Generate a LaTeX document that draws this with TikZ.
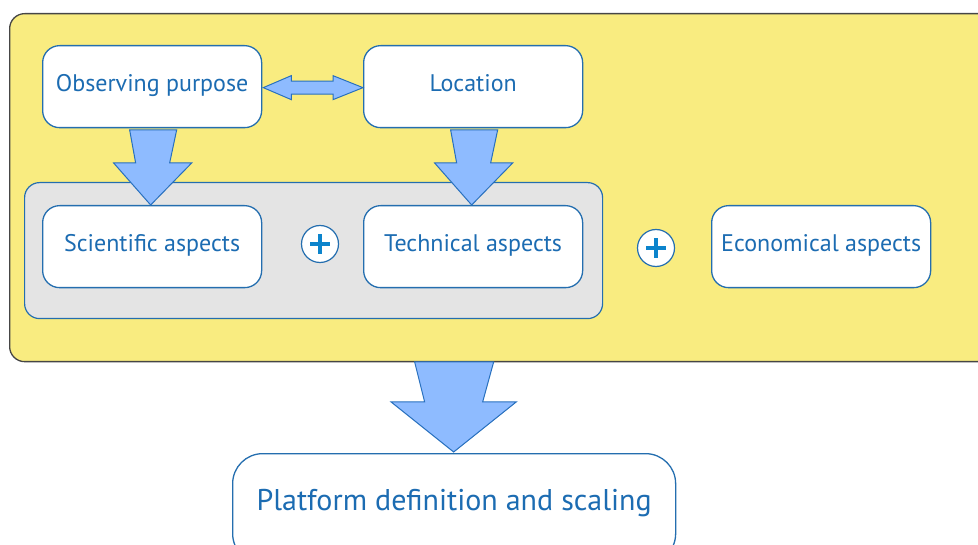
\documentclass[tikz,border=0pt]{standalone}
\usepackage{fontspec}
\setmainfont{PT Sans}
\usetikzlibrary{calc}
\definecolor{txtblue}{RGB}{28,108,178}
\definecolor{bordblue}{RGB}{36,110,175}
\definecolor{plusblue}{RGB}{12,132,204}
\definecolor{bgyellow}{RGB}{249,236,128}
\definecolor{bggray}{RGB}{228,228,228}
\definecolor{arrfill}{RGB}{142,187,255}
\definecolor{arrdraw}{RGB}{40,112,190}
\definecolor{frame}{RGB}{70,70,70}
\tikzset{
  aspectbox/.style={draw=bordblue, line width=1.3pt, fill=white, rounded corners=17pt,
    minimum width=219pt, minimum height=82pt, inner sep=0pt, text=txtblue,
    font=\fontsize{24}{27}\selectfont, anchor=north west},
  plusnode/.style={circle, draw=bordblue, line width=1.2pt, fill=white, minimum size=37pt, inner sep=0pt},
  fatarrow/.style={fill=arrfill, draw=arrdraw, line width=1pt, line join=miter},
}
\begin{document}
\begin{tikzpicture}[x=1pt,y=-1pt]
\useasboundingbox (0,0) rectangle (978,545);
\clip (0,0) rectangle (978,545);
% yellow frame
\node[draw=frame, line width=1.3pt, fill=bgyellow, rounded corners=15pt, anchor=north west,
  minimum width=1000pt, minimum height=348pt, inner sep=0pt] (frameY) at (9,13) {};
% gray group
\node[draw=bordblue, line width=1.2pt, fill=bggray, rounded corners=15pt, anchor=north west,
  minimum width=578pt, minimum height=136pt, inner sep=0pt] (grp) at (24,182) {};
% boxes
\node[aspectbox] (obs) at (42,45) {\raisebox{6.5pt}{Observing purpose}};
\node[aspectbox] (loc) at (363,45) {\raisebox{6.5pt}{Location}};
\node[aspectbox] (sci) at (42,205) {\raisebox{6.5pt}{Scientific aspects}};
\node[aspectbox] (tec) at (363,205) {\raisebox{6.5pt}{Technical aspects}};
\node[aspectbox] (eco) at (711,205) {\raisebox{6.5pt}{Economical aspects}};
\node[aspectbox, minimum width=443pt, minimum height=110pt, rounded corners=30pt,
  font=\fontsize{30}{33}\selectfont] (plat) at (232,453) {\raisebox{17pt}{Platform definition and scaling}};
% plus signs
\node[plusnode] (p1) at (320,244) {};
\node[plusnode] (p2) at (656,248) {};
\foreach \p in {p1,p2}{
  \fill[plusblue] ($(\p)+(-10,-2.3)$) rectangle ($(\p)+(10,2.3)$);
  \fill[plusblue] ($(\p)+(-2.3,-10)$) rectangle ($(\p)+(2.3,10)$);
}
% double arrow between obs and loc
\coordinate (dl) at ($(obs.east)+(1,1)$);
\coordinate (dr) at ($(loc.west)+(0,1)$);
\filldraw[fatarrow] (dl) -- ++(28,-12) -- ++(0,5.5) -- ($(dr)+(-30,-6.5)$) -- ++(0,-5.5)
  -- (dr) -- ++(-30,12) -- ++(0,-5.5) -- ($(dl)+(28,6.5)$) -- ++(0,5.5) -- cycle;
% down arrow obs -> sci
\coordinate (t1) at ($(sci.north)+(-1.5,0)$);
\filldraw[fatarrow] (t1) -- ++(-37,-42) -- ++(22,0) -- ++(-6,-33) -- ++(47,0) -- ++(-7,33) -- ++(22,0) -- cycle;
% down arrow loc -> tec
\coordinate (t2) at ($(tec.north)+(-1.5,0)$);
\filldraw[fatarrow] (t2) -- ++(-37,-42) -- ++(22,0) -- ++(-6,-33) -- ++(47,0) -- ++(-7,33) -- ++(22,0) -- cycle;
% big arrow frame -> platform
\coordinate (t3) at ($(plat.north)+(-0.5,-1)$);
\filldraw[fatarrow] (t3) -- ++(-62.5,-50) -- ++(33.5,0) -- ++(-10,-40) -- ++(79,0) -- ++(-11,40) -- ++(33.5,0) -- cycle;
\end{tikzpicture}
\end{document}
